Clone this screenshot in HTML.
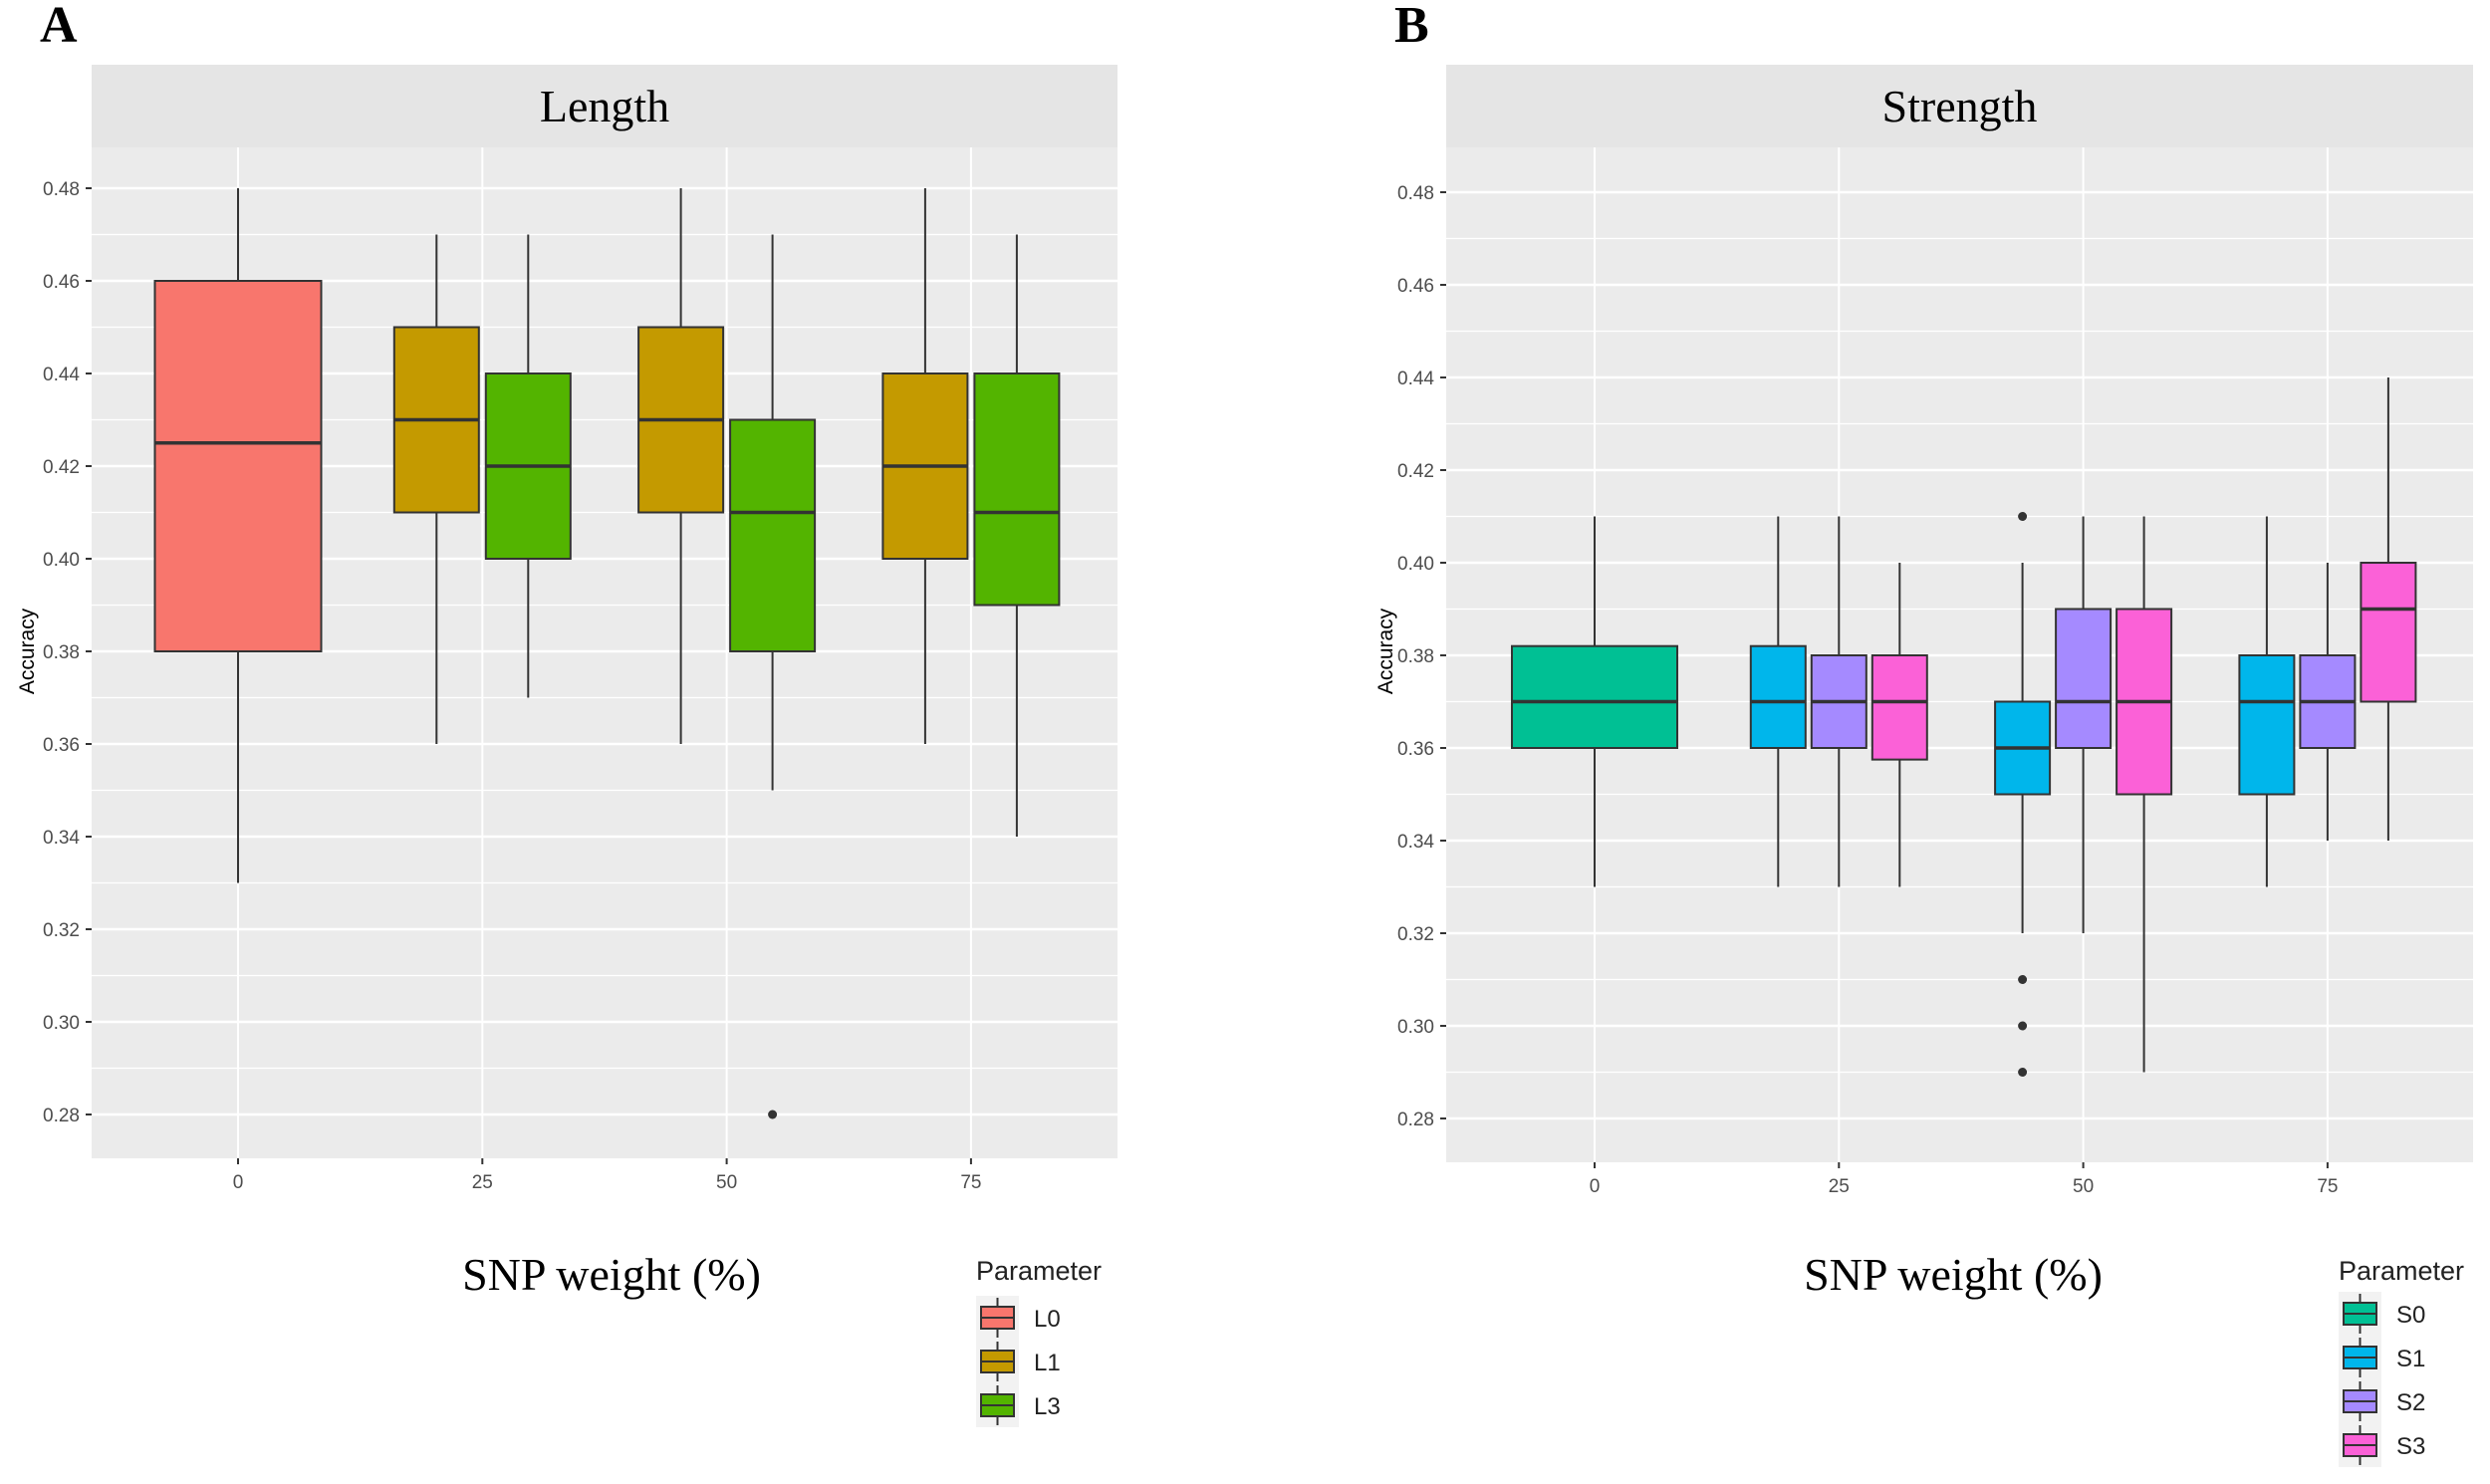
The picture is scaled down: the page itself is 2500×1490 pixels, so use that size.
<!DOCTYPE html>
<html><head><meta charset="utf-8"><style>
html,body{margin:0;padding:0;background:#fff;}
svg{display:block;}
</style></head><body>
<svg id="chart" width="2500" height="1490" viewBox="0 0 2500 1490" xmlns="http://www.w3.org/2000/svg">
<text x="40" y="42" font-family="Liberation Serif, serif" font-weight="bold" font-size="52">A</text>
<text x="1400" y="42" font-family="Liberation Serif, serif" font-weight="bold" font-size="52">B</text>
<g id="pa"></g>
<g id="pb"></g>
</svg>
<script>
const xTicks = [0, 25, 50, 75];
const yTicks = [0.28, 0.30, 0.32, 0.34, 0.36, 0.38, 0.40, 0.42, 0.44, 0.46, 0.48];
const yTickLabels = ["0.28","0.30","0.32","0.34","0.36","0.38","0.40","0.42","0.44","0.46","0.48"];

// Panel A (Length)
const aGroups = ["L0","L1","L3","L1","L3","L1","L3"];
const aX = [0, 25, 25, 50, 50, 75, 75];
const aLow = [0.33, 0.36, 0.37, 0.36, 0.35, 0.36, 0.34];
const aQ1 = [0.38, 0.41, 0.40, 0.41, 0.38, 0.40, 0.39];
const aMed = [0.425, 0.43, 0.42, 0.43, 0.41, 0.42, 0.41];
const aQ3 = [0.46, 0.45, 0.44, 0.45, 0.43, 0.44, 0.44];
const aHigh = [0.48, 0.47, 0.47, 0.48, 0.47, 0.48, 0.47];
const aOutX = [50];
const aOutGroup = ["L3"];
const aOutVal = [0.28];
const aLegend = ["L0","L1","L3"];

// Panel B (Strength)
const bGroups = ["S0","S1","S2","S3","S1","S2","S3","S1","S2","S3"];
const bX = [0, 25, 25, 25, 50, 50, 50, 75, 75, 75];
const bLow = [0.33, 0.33, 0.33, 0.33, 0.32, 0.32, 0.29, 0.33, 0.34, 0.34];
const bQ1 = [0.36, 0.36, 0.36, 0.3575, 0.35, 0.36, 0.35, 0.35, 0.36, 0.37];
const bMed = [0.37, 0.37, 0.37, 0.37, 0.36, 0.37, 0.37, 0.37, 0.37, 0.39];
const bQ3 = [0.382, 0.382, 0.38, 0.38, 0.37, 0.39, 0.39, 0.38, 0.38, 0.40];
const bHigh = [0.41, 0.41, 0.41, 0.40, 0.40, 0.41, 0.41, 0.41, 0.40, 0.44];
const bOutX = [50, 50, 50, 50];
const bOutGroup = ["S1","S1","S1","S1"];
const bOutVal = [0.41, 0.31, 0.30, 0.29];
const bLegend = ["S0","S1","S2","S3"];

const colors = {L0:"#F8766D",L1:"#C49A00",L3:"#53B400",S0:"#00C094",S1:"#00B6EB",S2:"#A58AFF",S3:"#FB61D7"};
const NS = "http://www.w3.org/2000/svg";
function mk(parent, tag, attrs){const e=document.createElementNS(NS,tag);for(const k in attrs)e.setAttribute(k,attrs[k]);parent.appendChild(e);return e;}

function drawPanel(cfg){
  const g = document.getElementById(cfg.id);
  const L=cfg.left,R=cfg.right,T=148,B=cfg.bottom;
  const yS = v => cfg.y048 + (0.48 - v) * (cfg.y028 - cfg.y048) / 0.20;
  const xS = v => cfg.x0 + v * cfg.step / 25;
  const strip = mk(g,"rect",{x:L,y:65,width:R-L,height:T-65,fill:"#e5e5e5"});
  
  
  const st = mk(g,"text",{x:(L+R)/2,y:122,"text-anchor":"middle","font-family":"Liberation Serif, serif","font-size":"46",fill:"#000"});
  st.textContent = cfg.title;
  
  
  const bg = mk(g,"rect",{x:L,y:T,width:R-L,height:B-T,fill:"#ebebeb"});
  
  
  for (let i=0;i<yTicks.length;i++){
    const y=yS(yTicks[i]);
    mk(g,"line",{x1:L,x2:R,y1:y,y2:y,stroke:"#fff","stroke-width":2.5});
    const ym=yS(yTicks[i]+0.01);
    if (ym>T) mk(g,"line",{x1:L,x2:R,y1:ym,y2:ym,stroke:"#fff","stroke-width":1.2});
    if (i===0){const y2=yS(yTicks[i]-0.01); if(y2<B) mk(g,"line",{x1:L,x2:R,y1:y2,y2:y2,stroke:"#fff","stroke-width":1.2});}
    mk(g,"line",{x1:L-6,x2:L,y1:y,y2:y,stroke:"#333","stroke-width":2});
    const t=mk(g,"text",{x:L-12,y:y+7,"text-anchor":"end","font-family":"Liberation Sans, sans-serif","font-size":"19",fill:"#4d4d4d"});
    t.textContent=yTickLabels[i];
    
    
  }
  for (let i=0;i<xTicks.length;i++){
    const x=xS(xTicks[i]);
    mk(g,"line",{x1:x,x2:x,y1:T,y2:B,stroke:"#fff","stroke-width":2});
    mk(g,"line",{x1:x,x2:x,y1:B,y2:B+6,stroke:"#333","stroke-width":2});
    const t=mk(g,"text",{x:x,y:B+30,"text-anchor":"middle","font-family":"Liberation Sans, sans-serif","font-size":"19",fill:"#4d4d4d"});
    t.textContent=String(xTicks[i]);
    
    
  }
  const n=cfg.groups.length;
  for (let i=0;i<n;i++){
    const cx0 = xS(cfg.xs[i]);
    const peers = []; for(let j=0;j<n;j++) if(cfg.xs[j]===cfg.xs[i]) peers.push(j);
    const k = peers.indexOf(i), m = peers.length;
    const w = m===1 ? cfg.wideW : cfg.narrowW;
    const cx = cx0 + (k - (m-1)/2) * cfg.dodge;
    const bx = mk(g,"g",{});
    
    
    mk(bx,"line",{x1:cx,x2:cx,y1:yS(cfg.high[i]),y2:yS(cfg.low[i]),stroke:"#333","stroke-width":2});
    mk(bx,"rect",{x:cx-w/2,y:yS(cfg.q3[i]),width:w,height:yS(cfg.q1[i])-yS(cfg.q3[i]),fill:colors[cfg.groups[i]],stroke:"#333","stroke-width":2});
    mk(bx,"line",{x1:cx-w/2,x2:cx+w/2,y1:yS(cfg.med[i]),y2:yS(cfg.med[i]),stroke:"#333","stroke-width":3.5});
  }
  for (let i=0;i<cfg.outX.length;i++){
    let cx=xS(cfg.outX[i]);
    const peers=[]; for(let j=0;j<n;j++) if(cfg.xs[j]===cfg.outX[i]) peers.push(j);
    const k=peers.findIndex(j=>cfg.groups[j]===cfg.outGroup[i]);
    cx += (k-(peers.length-1)/2)*cfg.dodge;
    const c=mk(g,"circle",{cx:cx,cy:yS(cfg.outVal[i]),r:4.5,fill:"#333"});
    
    
  }
  const yt=mk(g,"text",{transform:`translate(${cfg.ytx},654) rotate(-90)`,"text-anchor":"middle","font-family":"Liberation Sans, sans-serif","font-size":"21",fill:"#000"});
  yt.textContent="Accuracy";
  
  
  const xt=mk(g,"text",{x:cfg.xtx,y:1295,"text-anchor":"middle","font-family":"Liberation Serif, serif","font-size":"46",fill:"#000"});
  xt.textContent="SNP weight (%)";
  
  
  const lg=mk(g,"g",{});
  
  
  const lt=mk(lg,"text",{x:cfg.lx,y:1285,"font-family":"Liberation Sans, sans-serif","font-size":"27",fill:"#222"});
  lt.textContent="Parameter";
  const ly0=cfg.ly0;
  mk(lg,"rect",{x:cfg.lx,y:ly0-22,width:43,height:cfg.legend.length*44,fill:"#f2f2f2"});
  for (let i=0;i<cfg.legend.length;i++){
    const cy=ly0+i*44;
    const e=mk(lg,"g",{});
    
    
    mk(e,"line",{x1:cfg.lx+21.5,x2:cfg.lx+21.5,y1:cy-20,y2:cy+20,stroke:"#333","stroke-width":2});
    mk(e,"rect",{x:cfg.lx+5,y:cy-11,width:33,height:22,fill:colors[cfg.legend[i]],stroke:"#333","stroke-width":2});
    mk(e,"line",{x1:cfg.lx+5,x2:cfg.lx+38,y1:cy,y2:cy,stroke:"#333","stroke-width":2});
    const t=mk(e,"text",{x:cfg.lx+58,y:cy+9,"font-family":"Liberation Sans, sans-serif","font-size":"24",fill:"#222"});
    t.textContent=cfg.legend[i];
  }
}
drawPanel({id:"pa",name:"length",title:"Length",left:92,right:1122,bottom:1163,y048:189,y028:1119,x0:239,step:245.3,
  groups:aGroups,xs:aX,low:aLow,q1:aQ1,med:aMed,q3:aQ3,high:aHigh,outX:aOutX,outGroup:aOutGroup,outVal:aOutVal,
  wideW:167,narrowW:85,dodge:92,ytx:34,xtx:614,lx:980,ly0:1323,legend:aLegend});
drawPanel({id:"pb",name:"strength",title:"Strength",left:1452,right:2483,bottom:1167,y048:193,y028:1123,x0:1601,step:245.3,
  groups:bGroups,xs:bX,low:bLow,q1:bQ1,med:bMed,q3:bQ3,high:bHigh,outX:bOutX,outGroup:bOutGroup,outVal:bOutVal,
  wideW:166,narrowW:55,dodge:61,ytx:1398,xtx:1961,lx:2348,ly0:1319,legend:bLegend});
</script>
</body></html>
